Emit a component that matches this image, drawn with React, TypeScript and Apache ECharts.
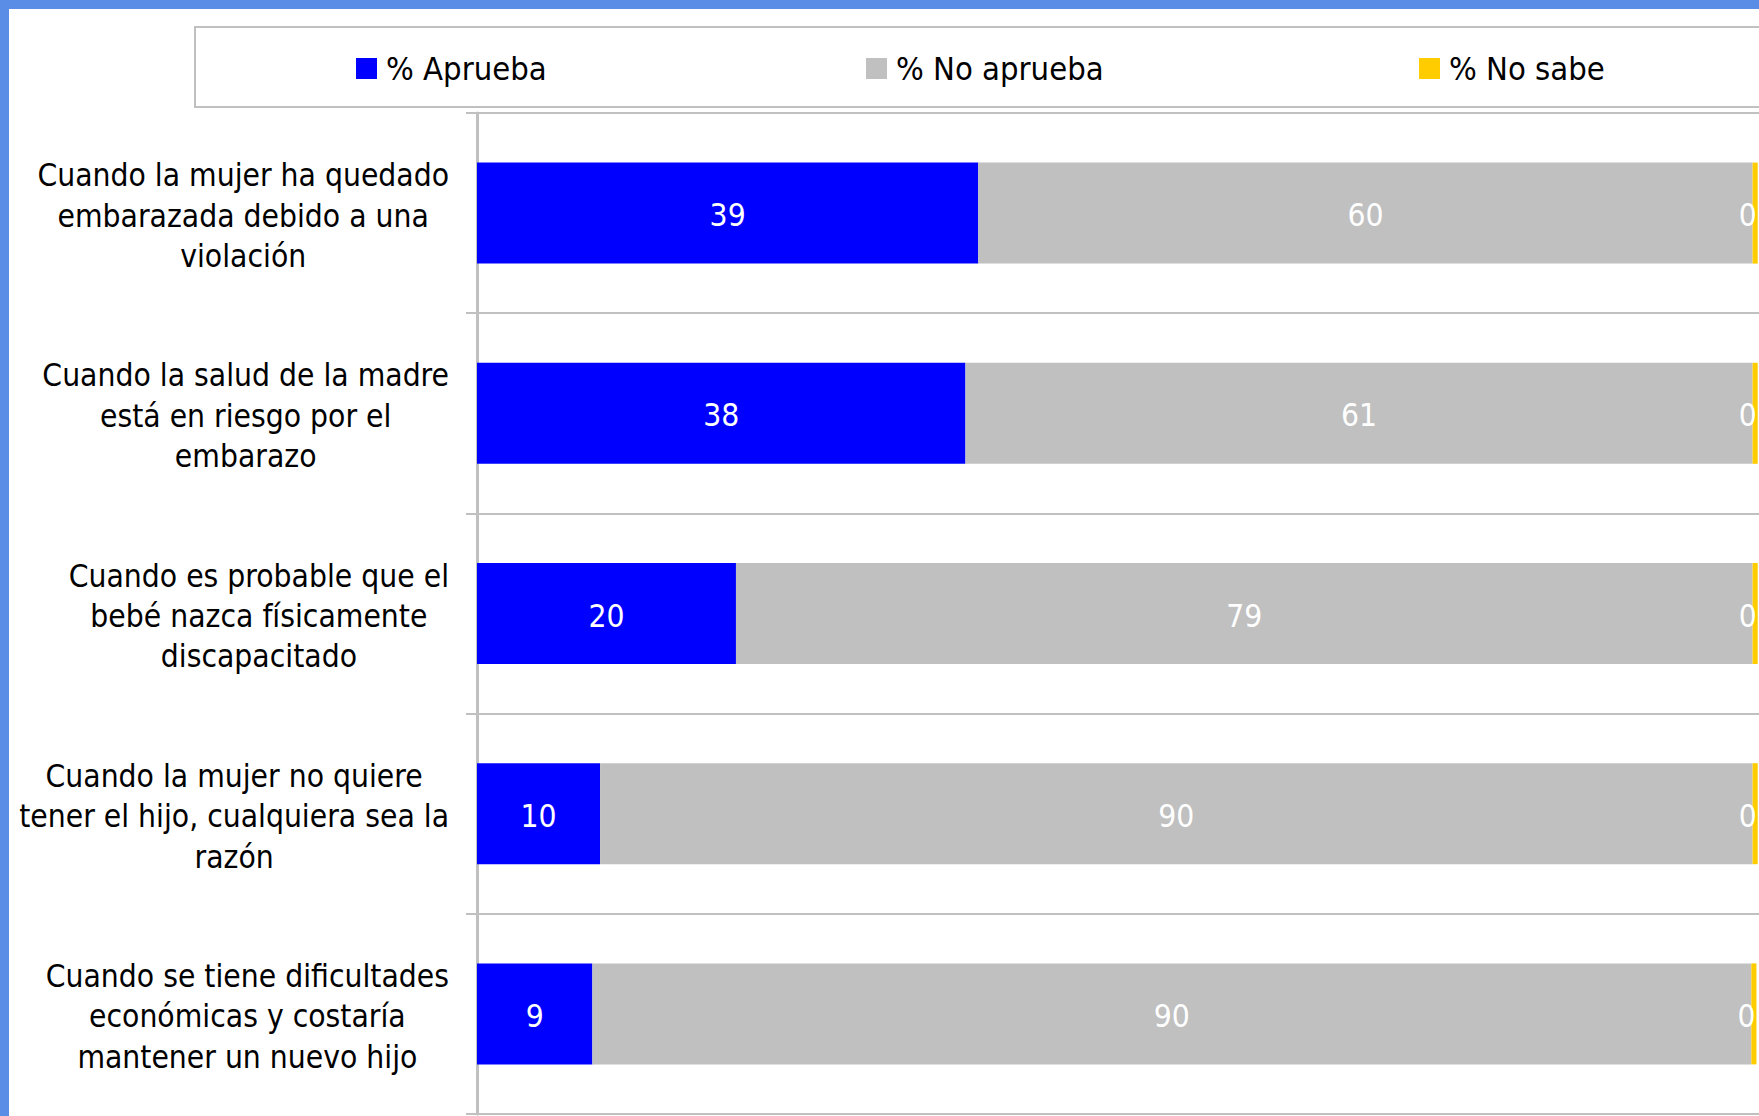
import React, { useEffect, useRef } from "react";
import * as echarts from "echarts";

const categories = [
  "Cuando la mujer ha quedado\nembarazada debido a una\nviolación",
  "Cuando la salud de la madre\nestá en riesgo por el\nembarazo",
  "Cuando es probable que el\nbebé nazca físicamente\ndiscapacitado",
  "Cuando la mujer no quiere\ntener el hijo, cualquiera sea la\nrazón",
  "Cuando se tiene dificultades\neconómicas y costaría\nmantener un nuevo hijo",
];
const seriesNames = ["% Aprueba", "% No aprueba", "% No sabe"];
const aprueba = [39.1, 38.1, 20.2, 9.6, 9.0];
const noAprueba = [60.4, 61.4, 79.3, 89.9, 90.4];
const noSabe = [0.4, 0.4, 0.4, 0.4, 0.4];
const colors = ["#0000FF", "#C0C0C0", "#FFCC00"];

const FONT = "'DejaVu Sans Condensed', 'DejaVu Sans', sans-serif";
const FS = 31.5;

export default function App() {
  const ref = useRef<HTMLDivElement>(null);
  useEffect(() => {
    if (!ref.current) return;
    const chart = echarts.init(ref.current, null, { renderer: "svg" });
    const legendLeft = [356, 866, 1419];
    const seriesData = [aprueba, noAprueba, noSabe];
    const option: any = {
      animation: false,
      backgroundColor: "#ffffff",
      grid: { left: 477, top: 113, bottom: 2, right: -1 },
      legend: seriesNames.map((n, i) => ({
        data: [n],
        left: legendLeft[i],
        top: 52,
        padding: 0,
        itemWidth: 21,
        itemHeight: 21,
        icon: "rect",
        selectedMode: false,
        textStyle: {
          fontSize: 32.5,
          fontFamily: FONT,
          color: "#000",
          lineHeight: 21,
          padding: [0, 0, 0, 4],
        },
      })),
      xAxis: {
        type: "value",
        min: 0,
        max: 100,
        show: false,
        splitLine: { show: false },
      },
      yAxis: {
        type: "category",
        data: categories,
        inverse: true,
        offset: 2,
        axisLine: { show: true, lineStyle: { color: "#c0c0c0", width: 3 } },
        axisTick: {
          show: true,
          length: 11,
          interval: 0,
          lineStyle: { color: "#c0c0c0", width: 2 },
        },
        splitLine: {
          show: true,
          interval: 0,
          lineStyle: { color: "#c0c0c0", width: 2 },
        },
        axisLabel: {
          interval: 0,
          margin: 26,
          padding: [5, 0, 0, 0],
          formatter: (v: string) =>
            v
              .split("\n")
              .map((l) => `{c|${l}}`)
              .join("\n"),
          rich: {
            c: {
              align: "center",
              fontSize: FS,
              lineHeight: 40.4,
              fontFamily: FONT,
              color: "#000",
            },
          },
        },
      },
      series: seriesNames.map((n, i) => ({
        name: n,
        type: "bar",
        stack: "total",
        barWidth: 101,
        data: seriesData[i],
        itemStyle: { color: colors[i] },
        label: {
          show: true,
          position: i === 2 ? "insideRight" : "inside",
          distance: 1,
          offset: [0, 2],
          color: "#ffffff",
          fontSize: FS,
          fontFamily: FONT,
          formatter: (p: any) => String(Math.round(p.value)),
        },
      })),
      graphic: [
        {
          type: "rect",
          shape: { x: 195, y: 27, width: 1700, height: 80 },
          style: { fill: "none", stroke: "#c0c0c0", lineWidth: 2 },
          z: -1,
        },
        {
          type: "rect",
          shape: { x: 0, y: 0, width: 1759, height: 9 },
          style: { fill: "#5A8DE6" },
        },
        {
          type: "rect",
          shape: { x: 0, y: 0, width: 9, height: 1116 },
          style: { fill: "#5A8DE6" },
        },
      ],
    };
    chart.setOption(option);
    return () => chart.dispose();
  }, []);
  return (
    <div
      ref={ref}
      style={{ position: "absolute", left: 0, top: 0, width: 1759, height: 1116 }}
    />
  );
}
